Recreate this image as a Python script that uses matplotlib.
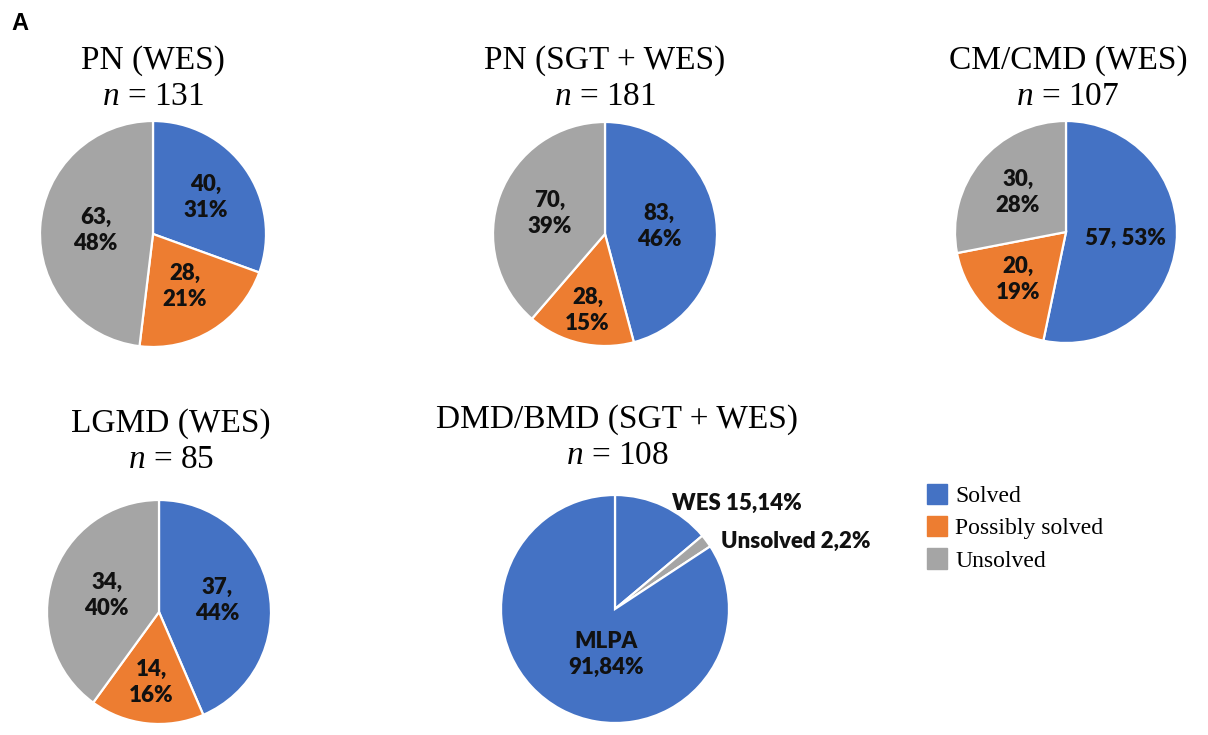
import numpy as np
import matplotlib
matplotlib.use("Agg")
import matplotlib.pyplot as plt
from matplotlib.patches import Patch

plt.rcParams['mathtext.fontset'] = 'custom'
plt.rcParams['mathtext.it'] = 'Liberation Serif:italic'
plt.rcParams['mathtext.rm'] = 'Liberation Serif'

# ---- data ----
categories = ['Solved', 'Possibly solved', 'Unsolved']
cat_colors = ['#4472C4', '#ED7D31', '#A5A5A5']

pn_wes = [40, 28, 63]
pn_sgt_wes = [83, 28, 70]
cm_cmd_wes = [57, 20, 30]
lgmd_wes = [37, 14, 34]

dmd_names = ['WES', 'Unsolved', 'MLPA']
dmd_values = [15, 2, 91]
dmd_colors = ['#4472C4', '#A5A5A5', '#4472C4']

titles = ['PN (WES)', 'PN (SGT + WES)', 'CM/CMD (WES)', 'LGMD (WES)',
          'DMD/BMD (SGT + WES)']

W, H = 1208, 735
fig = plt.figure(figsize=(W / 100, H / 100), dpi=100)
label_font = dict(family='Lato', fontweight='heavy', fontsize=16, color='#111111')
serif = 'Liberation Serif'


def pie_axes(cx, cy, r):
    pad = 1.03
    ax = fig.add_axes([(cx - r * pad) / W, 1 - (cy + r * pad) / H,
                       2 * r * pad / W, 2 * r * pad / H])
    ax.axis('off')
    return ax


def draw_pie(ax, values, colors):
    wedges, _ = ax.pie(values, colors=colors, startangle=90, counterclock=False,
                       radius=1, wedgeprops=dict(edgecolor='white', linewidth=1.6))
    ax.set_xlim(-1.03, 1.03)
    ax.set_ylim(-1.03, 1.03)
    return wedges


def label_pie(ax, wedges, values, dists, seps):
    total = sum(values)
    for w, v, d, s in zip(wedges, values, dists, seps):
        ang = np.deg2rad((w.theta1 + w.theta2) / 2)
        pct = int(round(v / total * 100 + 1e-9))
        ax.text(d * np.cos(ang), d * np.sin(ang), f'{v},{s}{pct}%',
                ha='center', va='center', linespacing=1.3, **label_font)


def title(x, y, name, n):
    fig.text(x / W, 1 - y / H, name, family=serif, fontsize=24, ha='center', va='center')
    fig.text(x / W, 1 - (y + 36) / H, r'$n$ = ' + str(n), family=serif, fontsize=24,
             ha='center', va='center')


fig.text(11 / W, 1 - 23 / H, 'A', family='Liberation Sans', fontweight='bold',
         fontsize=17, ha='left', va='center')

# PN (WES)
ax = pie_axes(153, 234, 113)
wd = draw_pie(ax, pn_wes, cat_colors)
label_pie(ax, wd, pn_wes, [0.57, 0.54, 0.51], ['\n', '\n', '\n'])
title(153, 61, titles[0], sum(pn_wes))

# PN (SGT + WES)
ax = pie_axes(605, 234, 112)
wd = draw_pie(ax, pn_sgt_wes, cat_colors)
label_pie(ax, wd, pn_sgt_wes, [0.49, 0.70, 0.53], ['\n', '\n', '\n'])
title(605, 61, titles[1], sum(pn_sgt_wes))

# CM/CMD (WES)
ax = pie_axes(1066, 232, 111)
wd = draw_pie(ax, cm_cmd_wes, cat_colors)
label_pie(ax, wd, cm_cmd_wes, [0.54, 0.61, 0.56], [' ', '\n', '\n'])
title(1068, 61, titles[2], sum(cm_cmd_wes))

# LGMD (WES)
ax = pie_axes(159, 612, 112)
wd = draw_pie(ax, lgmd_wes, cat_colors)
label_pie(ax, wd, lgmd_wes, [0.53, 0.63, 0.49], ['\n', '\n', '\n'])
title(171, 424, titles[3], sum(lgmd_wes))

# DMD/BMD (SGT + WES)
ax = pie_axes(615, 609, 114)
wd = draw_pie(ax, dmd_values, dmd_colors)
tot = sum(dmd_values)
pcts = [int(round(v / tot * 100)) for v in dmd_values]
ax.text(0.50, 0.93, f'{dmd_names[0]} {dmd_values[0]},{pcts[0]}%', ha='left', va='center', **label_font)
ax.text(0.93, 0.59, f'{dmd_names[1]} {dmd_values[1]},{pcts[1]}%', ha='left', va='center', **label_font)
ax.text(-0.08, -0.40, f'{dmd_names[2]}\n{dmd_values[2]},{pcts[2]}%', ha='center', va='center',
        linespacing=1.3, **label_font)
title(617, 420, titles[4], tot)

# legend
handles = [Patch(facecolor=c, edgecolor=c) for c in cat_colors]
fig.legend(handles, categories, loc='upper left', bbox_to_anchor=(922 / W, 1 - 479 / H),
           frameon=False, prop=dict(family=serif, size=17), handlelength=0.85,
           handleheight=0.95, handletextpad=0.35, labelspacing=0.38, borderaxespad=0,
           borderpad=0.2)

fig.savefig('out.png', dpi=100, facecolor='white')
